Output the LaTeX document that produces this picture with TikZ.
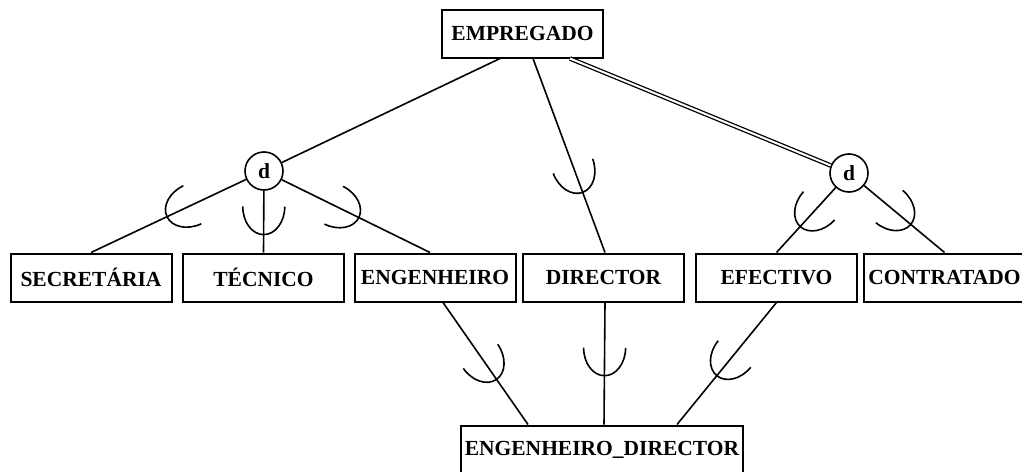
\documentclass[tikz,border=0pt]{standalone}
\usepackage{fontspec}
\setmainfont{Liberation Serif}
\newlength{\du}
\setlength{\du}{1pt}
\tikzset{
  entity/.style={draw, line width=2\du, minimum width=161\du, minimum height=48\du,
    inner sep=2\du, font=\fontsize{21.5}{25}\selectfont\bfseries},
  disj/.style={draw, circle, line width=1.6\du, minimum size=38\du, inner sep=0pt,
    font=\fontsize{21.5}{25}\selectfont\bfseries},
  link/.style={line width=1.6\du},
  cup/.pic={\draw[line width=1.6\du] (-28\du,-21\du) arc[start angle=-90,end angle=90,x radius=28\du,y radius=21\du];}
}
\begin{document}
\begin{tikzpicture}
\useasboundingbox (0\du,0\du) rectangle (1022\du,-471\du);
% entities
\node[entity] (emp) at (522.5\du,-33.5\du){EMPREGADO};
\node[entity] (sec) at (91\du,-277.5\du){SECRETÁRIA};
\node[entity] (tec) at (263.5\du,-277.5\du){TÉCNICO};
\node[entity] (eng) at (435\du,-277.5\du){ENGENHEIRO};
\node[entity] (dir) at (603.5\du,-277.5\du){DIRECTOR};
\node[entity] (efe) at (776.5\du,-277.5\du){EFECTIVO};
\node[entity] (con) at (944.5\du,-277.5\du){CONTRATADO};
\node[entity, minimum width=282\du] (engdir) at (602\du,-449.5\du){ENGENHEIRO\_DIRECTOR};
% disjoint circles
\node[disj] (d1) at (264\du,-171\du){d};
\node[disj] (d2) at (849\du,-173\du){d};
% links from EMPREGADO
\draw[link] ([xshift=-22.5\du]emp.south) -- (d1);
\draw[link] ([xshift=10.5\du]emp.south) -- ([xshift=1.5\du]dir.north) pic[pos=0.69, sloped, allow upside down]{cup};
\draw[line width=1.3\du, double, double distance=2\du] ([xshift=47.5\du]emp.south) -- (d2);
% first specialisation
\draw[link] (d1) -- (sec.north) pic[pos=0.51, sloped, allow upside down]{cup};
\draw[link] (d1) -- (tec.north) pic[pos=0.71, sloped, allow upside down]{cup};
\draw[link] (d1) -- ([xshift=-5\du]eng.north) pic[pos=0.52, sloped, allow upside down]{cup};
% second specialisation
\draw[link] (d2) -- (efe.north) pic[pos=0.6, sloped, allow upside down]{cup};
\draw[link] (d2) -- (con.north) pic[pos=0.58, sloped, allow upside down]{cup};
% shared subclass
\draw[link] ([xshift=8\du]eng.south) -- ([xshift=-74\du]engdir.north) pic[pos=0.63, sloped, allow upside down]{cup};
\draw[link] ([xshift=1.5\du]dir.south) -- ([xshift=2\du]engdir.north) pic[pos=0.6, sloped, allow upside down]{cup};
\draw[link] (efe.south) -- ([xshift=75\du]engdir.north) pic[pos=0.6, sloped, allow upside down]{cup};
\end{tikzpicture}
\end{document}
